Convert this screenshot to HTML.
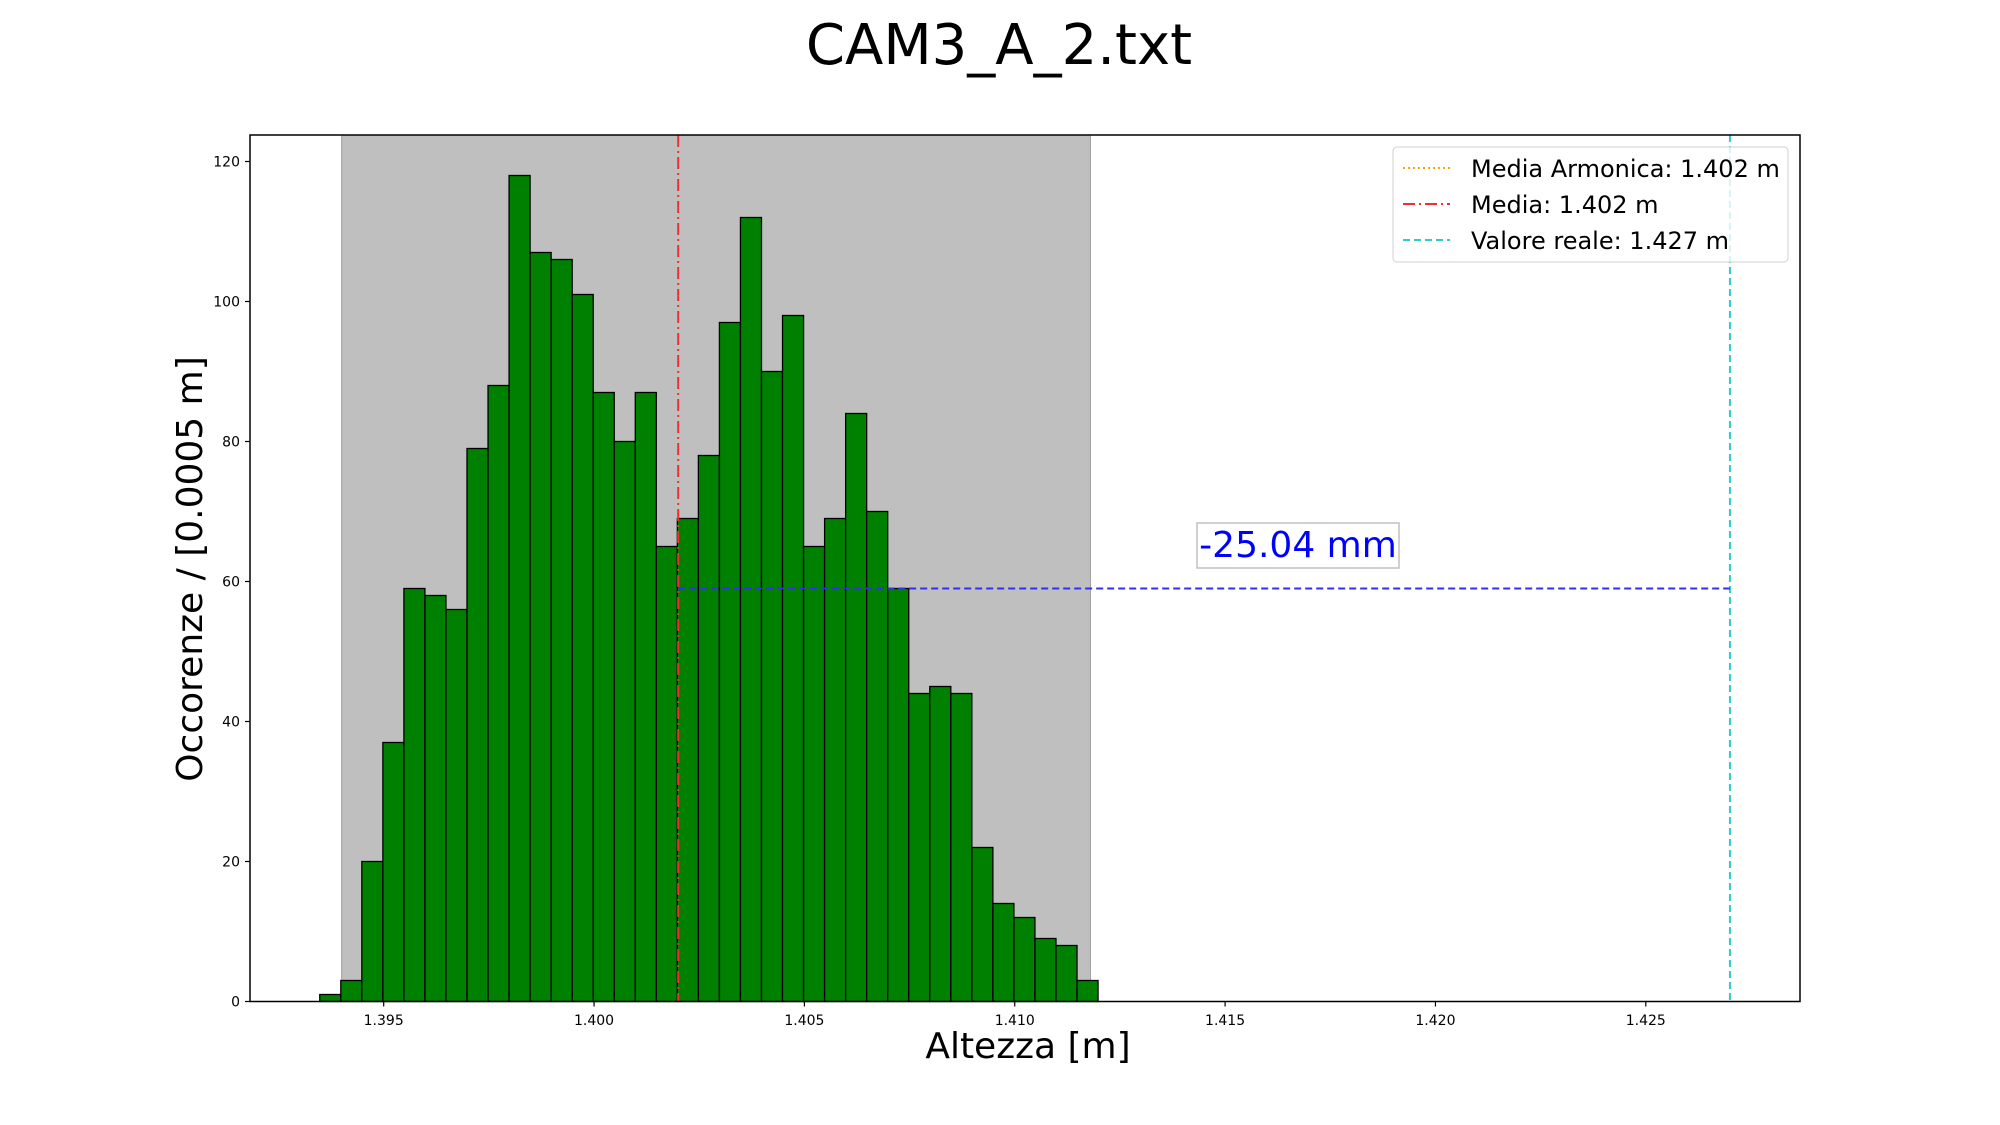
<!DOCTYPE html>
<html><head><meta charset="utf-8"><style>
html,body{margin:0;padding:0;background:#fff;}
svg{display:block;font-family:"DejaVu Sans","Liberation Sans",sans-serif;}
</style></head><body>
<svg id="chart" width="2000" height="1125" viewBox="0 0 2000 1125" xmlns="http://www.w3.org/2000/svg">
<rect width="2000" height="1125" fill="#fff"/>
<text x="999" y="64" font-size="56" text-anchor="middle">CAM3_A_2.txt</text>
<g id="plot"></g>
<text transform="translate(202,569) rotate(-90)" font-size="36" text-anchor="middle">Occorenze / [0.0005 m]</text>
<text x="1028" y="1058" font-size="36" text-anchor="middle">Altezza [m]</text>
<g>
<rect x="1393" y="147" width="395" height="115" rx="4" fill="#fff" fill-opacity="0.8" stroke="#d0d0d0"/>
<line x1="1403" y1="168" x2="1450" y2="168" stroke="orange" stroke-width="2" stroke-dasharray="2,3"/>
<text x="1471" y="177" font-size="24">Media Armonica: 1.402 m</text>
<line x1="1403" y1="204" x2="1450" y2="204" stroke="#f03030" stroke-width="2" stroke-dasharray="12,4,2,4"/>
<text x="1471" y="213" font-size="24">Media: 1.402 m</text>
<line x1="1403" y1="240" x2="1450" y2="240" stroke="#30cccc" stroke-width="2" stroke-dasharray="7,4"/>
<text x="1471" y="249" font-size="24">Valore reale: 1.427 m</text>
</g>
</svg>
<script>
const counts=[1,3,20,37,59,58,56,79,88,118,107,106,101,87,80,87,65,69,78,97,112,90,98,65,69,84,70,59,44,45,44,22,14,12,9,8,3];
const binStart=1.39348;
const binWidth=0.0005;
const xTicks=[1.395,1.400,1.405,1.410,1.415,1.420,1.425];
const yTicks=[0,20,40,60,80,100,120];
const meanVal=1.402;
const realVal=1.427;
const spanRange=[1.394,1.4118];
const annotationLabel="-25.04 mm";
const annotationY=59;

const NS="http://www.w3.org/2000/svg";
const X=v=>383.7+(v-1.395)*42070;
const Y=v=>1001.5-7*v;
const L=250,R=1800,T=135,B=1001.5;
const g=document.getElementById('plot');
function mk(tag,attrs,parent){const e=document.createElementNS(NS,tag);for(const k in attrs)e.setAttribute(k,attrs[k]);(parent||g).appendChild(e);return e;}

const span=mk('rect',{x:X(spanRange[0]),y:T,width:X(spanRange[1])-X(spanRange[0]),height:B-T,fill:'#bfbfbf',stroke:'#a0a0a0'});



counts.forEach((c,i)=>{
  const x0=X(binStart+i*binWidth),x1=X(binStart+(i+1)*binWidth);
  const r=mk('rect',{x:x0,y:Y(c),width:x1-x0,height:B-Y(c),fill:'#008000',stroke:'#000','stroke-width':1.3});
  
  
});

const ml=mk('line',{x1:X(meanVal),x2:X(meanVal),y1:T,y2:B,stroke:'#f03030','stroke-width':2,'stroke-dasharray':'12,4,2,4'});


const rl=mk('line',{x1:X(realVal),x2:X(realVal),y1:T,y2:B,stroke:'#30cccc','stroke-width':2,'stroke-dasharray':'7,4'});


const hl=mk('line',{x1:X(meanVal),x2:X(realVal),y1:Y(annotationY),y2:Y(annotationY),stroke:'#3030f0','stroke-width':2,'stroke-dasharray':'7,4'});



const ab=mk('rect',{x:1197,y:523,width:202,height:45,fill:'#fff',stroke:'#c0c0c0','stroke-width':1.5});


const at=mk('text',{x:1298,y:557,'font-size':36,fill:'#0000ff','text-anchor':'middle'});
at.textContent=annotationLabel;



const fr=mk('rect',{x:L,y:T,width:R-L,height:B-T,fill:'none',stroke:'#000','stroke-width':1.5});



xTicks.forEach(t=>{
  const x=X(t);
  mk('line',{x1:x,x2:x,y1:B,y2:B+5,stroke:'#000','stroke-width':1.2});
  const tx=mk('text',{x:x,y:1025,'font-size':14,'text-anchor':'middle'});
  tx.textContent=t.toFixed(3);
  
  
});
yTicks.forEach(t=>{
  const y=Y(t);
  mk('line',{x1:L-5,x2:L,y1:y,y2:y,stroke:'#000','stroke-width':1.2});
  const ty=mk('text',{x:240,y:y+5,'font-size':14,'text-anchor':'end'});
  ty.textContent=t;
  
  
});
</script>
</body></html>
